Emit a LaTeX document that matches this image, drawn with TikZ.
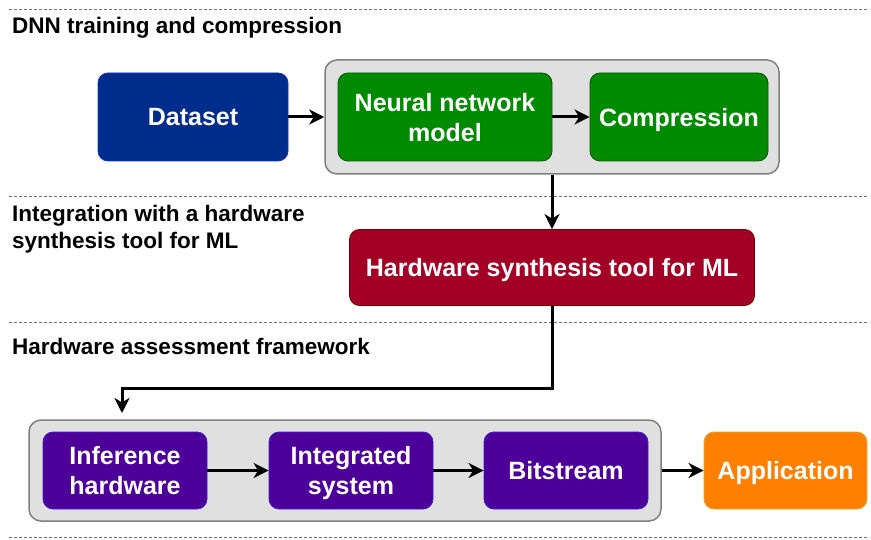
\documentclass[tikz,border=0pt]{standalone}
\usepackage{fontspec}
\setmainfont{Liberation Sans}
\usetikzlibrary{arrows.meta}
\definecolor{dsfill}{RGB}{0,45,140}
\definecolor{dsline}{RGB}{20,50,200}
\definecolor{gnfill}{RGB}{0,138,0}
\definecolor{gnline}{RGB}{0,87,0}
\definecolor{rdfill}{RGB}{162,0,37}
\definecolor{rdline}{RGB}{111,0,0}
\definecolor{ppfill}{RGB}{76,0,153}
\definecolor{ppline}{RGB}{70,30,200}
\definecolor{orfill}{RGB}{255,128,0}
\definecolor{orline}{RGB}{215,170,60}
\definecolor{gyfill}{RGB}{224,224,224}
\definecolor{gyline}{RGB}{128,128,128}
\tikzset{
  x=1pt, y=-1pt,
  box/.style={rounded corners=10pt, line width=0.8pt, text=white, align=center,
    font=\fontsize{25}{30}\selectfont\bfseries, inner sep=0pt, text depth=0pt},
  group/.style={rounded corners=12pt, line width=1.5pt, draw=gyline, fill=gyfill, inner sep=0pt},
  arr/.style={line width=3pt, -{Stealth[length=15pt,width=15pt,inset=4.5pt]}},
  lane/.style={gray!90!black, line width=1pt, dash pattern=on 3pt off 2pt},
  title/.style={anchor=west, align=left, inner sep=0pt, font=\fontsize{22.5}{27}\selectfont\bfseries}
}
\begin{document}
\begin{tikzpicture}
\useasboundingbox (0,0) rectangle (871,540);

% stage separators
\draw[lane] (9,10) -- (869,10);
\draw[lane] (9,197) -- (869,197);
\draw[lane] (9,323) -- (869,323);
\draw[lane] (9,537) -- (869,537);

% stage titles
\node[title] (t1) at (12,28) {DNN training and compression};
\node[title] (t2) at (12,229.5) {Integration with a hardware\\synthesis tool for ML};
\node[title] (t3) at (12,346) {Hardware assessment framework};

% training and compression
\node[group, minimum width=454pt, minimum height=114pt] (g1) at (552,117) {};
\node[box, fill=dsfill, draw=dsline, minimum width=190pt, minimum height=88pt] (data) at (193,117) {Dataset};
\node[box, fill=gnfill, draw=gnline, minimum width=214pt, minimum height=88pt] (nn) at (445,117) {Neural network\\model};
\node[box, fill=gnfill, draw=gnline, minimum width=178pt, minimum height=88pt] (comp) at (679,117) {Compression};

% synthesis tool
\node[box, fill=rdfill, draw=rdline, minimum width=405pt, minimum height=76pt] (hs) at (552,267.5) {Hardware synthesis tool for ML};

% assessment framework
\node[group, minimum width=632pt, minimum height=101pt] (g2) at (345,470.5) {};
\node[box, fill=ppfill, draw=ppline, minimum width=164pt, minimum height=77pt] (inf) at (125,470.5) {Inference\\hardware};
\node[box, fill=ppfill, draw=ppline, minimum width=164pt, minimum height=77pt] (integ) at (351,470.5) {Integrated\\system};
\node[box, fill=ppfill, draw=ppline, minimum width=164pt, minimum height=77pt] (bits) at (566,470.5) {Bitstream};
\node[box, fill=orfill, draw=orline, minimum width=163pt, minimum height=77pt] (app) at (785.5,470.5) {Application};

% connectors
\draw[arr] (data) -- (g1);
\draw[arr] (nn) -- (comp);
\draw[arr] (g1.south) -- (hs.north);
\coordinate (elbow) at (122,388);
\coordinate (tip) at (122,413);
\draw[arr] (hs.south) |- (elbow) -- (tip);
\draw[arr] (inf) -- (integ);
\draw[arr] (integ) -- (bits);
\draw[arr] (g2) -- (app);
\end{tikzpicture}
\end{document}
